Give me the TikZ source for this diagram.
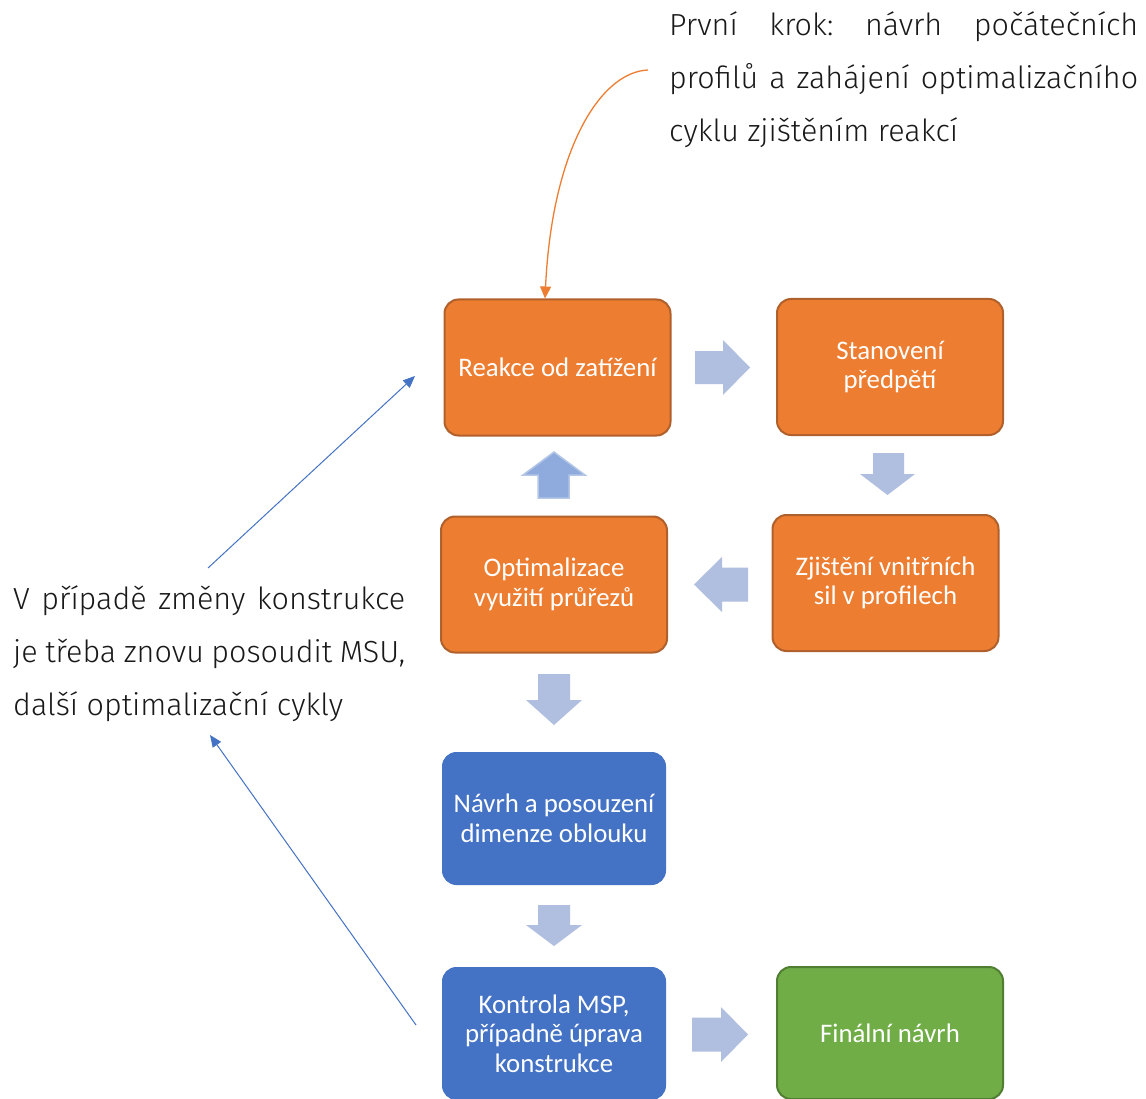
\documentclass[tikz,border=0pt]{standalone}
\usepackage{fontspec}
\setmainfont{Carlito}
\newfontfamily\notefont{Fira Sans Light}
\usetikzlibrary{arrows.meta}
\definecolor{orng}{HTML}{ED7D31}
\definecolor{orngb}{HTML}{B0602A}
\definecolor{blu}{HTML}{4472C4}
\definecolor{grn}{HTML}{70AD47}
\definecolor{grnb}{HTML}{507E32}
\definecolor{barrow}{HTML}{B0BEE0}
\definecolor{uparrow}{HTML}{8FAADC}
\definecolor{uparrowb}{HTML}{B4C7E7}
\begin{document}
\begin{tikzpicture}[x=1pt,y=-1pt,
  box/.style={rounded corners=14pt, text=white, align=center, inner sep=0pt,
    font=\fontsize{26.8}{29.5}\selectfont},
  obox/.style={box, fill=orng, draw=orngb, line width=2pt, minimum width=226pt, minimum height=136pt},
  bbox/.style={box, fill=blu, draw=blu, line width=1pt, minimum width=223pt, minimum height=132pt},
  gbox/.style={box, fill=grn, draw=grnb, line width=2pt, minimum width=226pt, minimum height=132pt},
  blockarrow/.style={fill=barrow},
  uparrowst/.style={fill=uparrow, draw=uparrowb, line width=1.5pt},
  note/.style={inner sep=0pt, align=left, font=\notefont\fontsize{30.5}{53}\selectfont, text=black!90},
  orangeline/.style={draw=orng, line width=1.3pt, -{Triangle[length=12pt,width=11pt]}},
  blueline/.style={draw=blu, line width=1pt, -{Triangle[length=12pt,width=10pt]}}
]
\useasboundingbox (0,0) rectangle (1146,1099);
\fill[white] (0,0) rectangle (1146,1099);

% boxes
\node[obox] (reakce) at (557.5,367.5) {Reakce od zatížení};
\node[obox] (stanov) at (890,367) {Stanovení\\předpětí};
\node[obox] (zjist) at (885.5,583) {Zjištění vnitřních\\sil v profilech};
\node[obox] (optim) at (554,584.5) {Optimalizace\\využití průřezů};
\node[bbox] (navrh) at (554,818.5) {Návrh a posouzení\\dimenze oblouku};
\node[bbox] (kontrola) at (554,1033.5) {Kontrola MSP,\\případně úprava\\konstrukce};
\node[gbox] (final) at (890,1033) {Finální návrh};

% block arrows
\path[blockarrow] (695,351) -- (723,351) -- (723,340) -- (750,367.5) -- (723,395) -- (723,384) -- (695,384) -- cycle;
\path[blockarrow] (873,453) -- (904,453) -- (904,474) -- (915,474) -- (887.5,495) -- (860,474) -- (873,474) -- cycle;
\path[blockarrow] (748,567.5) -- (722,567.5) -- (722,557) -- (694,584.5) -- (722,612) -- (722,601.5) -- (748,601.5) -- cycle;
\path[uparrowst] (538,498) -- (538,475) -- (523,475) -- (554,452) -- (585,475) -- (569,475) -- (569,498) -- cycle;
\path[blockarrow] (538,674) -- (570,674) -- (570,700) -- (582,700) -- (554,725) -- (526,700) -- (538,700) -- cycle;
\path[blockarrow] (538,905) -- (570,905) -- (570,925) -- (582,925) -- (554,946) -- (526,925) -- (538,925) -- cycle;
\path[blockarrow] (692,1017.5) -- (721,1017.5) -- (721,1007) -- (748,1034.5) -- (721,1062) -- (721,1051.5) -- (692,1051.5) -- cycle;

% notes
\node[note, anchor=north west] (topnote) at (669,9) {%
  \rule{0pt}{26pt}\hbox to 469pt{První\hfill krok:\hfill návrh\hfill počátečních}\\
  \hbox to 469pt{profilů\hfill a\hfill zahájení\hfill optimalizačního}\\
  cyklu zjištěním reakcí};
\node[note, anchor=north west] (leftnote) at (13,583) {%
  \rule{0pt}{26pt}\hbox to 392pt{V\hfill případě\hfill změny\hfill konstrukce}\\
  \hbox to 392pt{je\hfill třeba\hfill znovu\hfill posoudit\hfill MSU,}\\
  další optimalizační cykly};

% annotation connectors
\coordinate (c1) at (648,70);
\draw[orangeline] (c1) .. controls (600,72) and (552,150) .. ([xshift=-12.5pt]reakce.north);
\coordinate (l1s) at (208,568);
\coordinate (l1e) at (415,376);
\draw[blueline] (l1s) -- (l1e);
\coordinate (l2s) at (416,1025);
\coordinate (l2e) at (210,735);
\draw[blueline] (l2s) -- (l2e);
\end{tikzpicture}
\end{document}
